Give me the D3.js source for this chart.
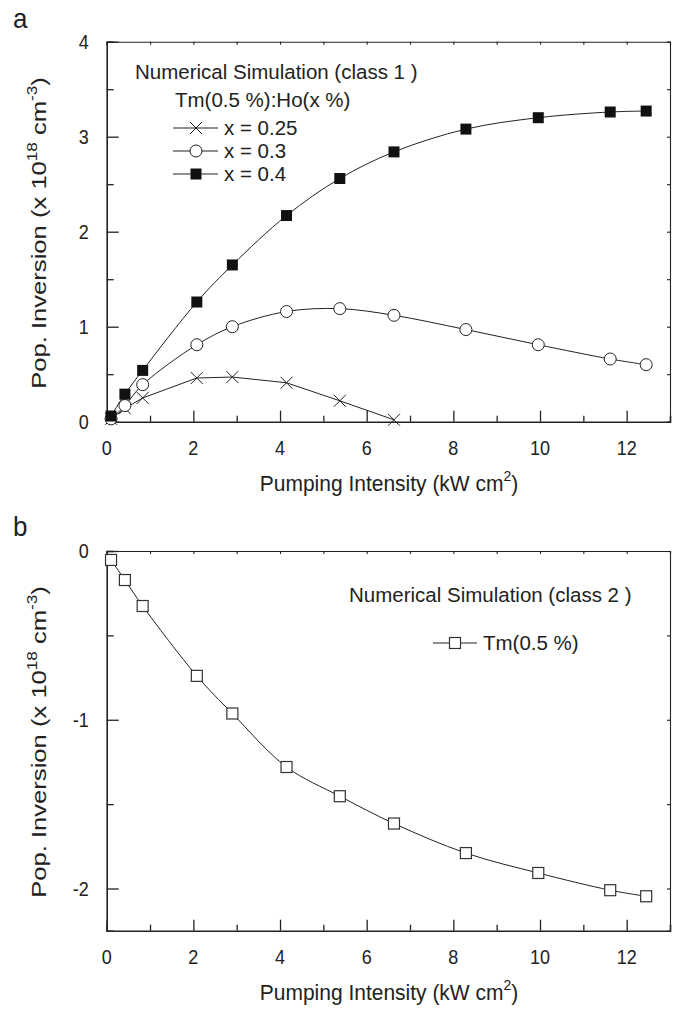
<!DOCTYPE html>
<html>
<head>
<meta charset="utf-8">
<script src="https://cdn.jsdelivr.net/npm/d3@7"></script>
<style>
  body { margin: 0; background: #fff; }
  text { font-family: "Liberation Sans", Arial, sans-serif; fill: #222; }
</style>
</head>
<body>
<script>
// data
const pump = [0.1, 0.42, 0.83, 2.08, 2.9, 4.15, 5.38, 6.63, 8.29, 9.96, 11.62, 12.45];
const ho025 = [0.03, 0.14, 0.25, 0.46, 0.47, 0.41, 0.22, 0.02];
const ho03 = [0.03, 0.17, 0.39, 0.81, 1.0, 1.16, 1.19, 1.12, 0.97, 0.81, 0.66, 0.6];
const ho04 = [0.06, 0.29, 0.54, 1.26, 1.65, 2.17, 2.56, 2.84, 3.08, 3.2, 3.26, 3.27];
const tmOnly = [-0.053, -0.172, -0.326, -0.74, -0.963, -1.28, -1.453, -1.615, -1.79, -1.908, -2.01, -2.046];
const xTicks = [0, 2, 4, 6, 8, 10, 12];
const yTicksA = [0, 1, 2, 3, 4];
const yTicksB = [0, -1, -2];
const legendA = ["x = 0.25", "x = 0.3", "x = 0.4"];

const W = 680, H = 1009;
const svg = d3.select("body").append("svg")
    .attr("width", W).attr("height", H);

const x = d3.scaleLinear().domain([0, 13]).range([106.7, 670]);
const smooth = d3.line()
    .curve(d3.curveCatmullRom.alpha(0.5))
    .x(d => x(d[0])).y(d => d[1]);
const straight = d3.line()
    .x(d => x(d[0])).y(d => d[1]);

// text placed at its baseline point, optionally stretched vertically (the scan is a bit tall)
function label(g, tx, ty, size, anchor, k, rot) {
    return g.append("text")
        .attr("transform", `translate(${tx},${ty}) scale(1,${k || 1})` + (rot ? " rotate(-90)" : ""))
        .attr("text-anchor", anchor || "start").attr("font-size", size);
}

function drawMarker(g, type, cx, cy) {
    if (type === "fsq") {
        g.append("rect").attr("x", cx - 5.5).attr("y", cy - 5.5).attr("width", 11).attr("height", 11)
            .attr("fill", "#111");
    } else if (type === "osq") {
        g.append("rect").attr("x", cx - 5.5).attr("y", cy - 5.5).attr("width", 11).attr("height", 11)
            .attr("fill", "#fff").attr("stroke", "#333").attr("stroke-width", 1.2);
    } else if (type === "circ") {
        g.append("circle").attr("cx", cx).attr("cy", cy).attr("r", 6)
            .attr("fill", "#fff").attr("stroke", "#222").attr("stroke-width", 1);
    } else if (type === "cross") {
        g.append("path")
            .attr("d", `M${cx - 6},${cy - 6}L${cx + 6},${cy + 6}M${cx - 6},${cy + 6}L${cx + 6},${cy - 6}`)
            .attr("stroke", "#222").attr("stroke-width", 1).attr("fill", "none");
    }
}

function panel(y, majorY, minorY, name, cy) {
    const g = svg.append("g");
    const x0 = x.range()[0], x1 = x.range()[1];
    const y0 = y.range()[0], y1 = y.range()[1];

    // bottom axis with inward ticks
    const bx = g.append("g").attr("transform", `translate(0,${y0})`)
        .call(d3.axisBottom(x).tickValues(d3.range(0, 13)).tickSize(-6).tickFormat(""));
    bx.selectAll(".tick line").filter(d => d % 2 === 0).attr("y2", -11);
    bx.selectAll("line, path").attr("stroke", "#222").attr("stroke-width", 1.3);
    bx.select(".domain").attr("stroke-width", 1.6);
    xTicks.forEach(d => label(g, x(d), y0 + 33, 18, "middle", 1.1).text(d));

    // top axis, small ticks
    const tx = g.append("g").attr("transform", `translate(0,${y1})`)
        .call(d3.axisTop(x).tickValues(d3.range(0, 14)).tickSize(-3).tickFormat(""));
    tx.selectAll("line, path").attr("stroke", "#222").attr("stroke-width", 1.1);

    // left axis
    const ly = g.append("g").attr("transform", `translate(${x0},0)`)
        .call(d3.axisLeft(y).tickValues(minorY).tickSize(-7).tickFormat(""));
    ly.selectAll(".tick line").filter(d => Number.isInteger(d)).attr("x2", 12);
    ly.selectAll("line, path").attr("stroke", "#222").attr("stroke-width", 1.3);
    ly.select(".domain").attr("stroke-width", 1.6);
    majorY.forEach(d => label(g, x0 - 18, y(d) + 7, 18, "end", 1.1).text(d));

    // right axis
    const ry = g.append("g").attr("transform", `translate(${x1},0)`)
        .call(d3.axisRight(y).tickValues(minorY).tickSize(-3).tickFormat(""));
    ry.selectAll("line, path").attr("stroke", "#222").attr("stroke-width", 1.1);

    // axis titles
    const xt = label(g, 389, y0 + 69, 21, "middle", 1.05);
    xt.append("tspan").text("Pumping Intensity (kW cm");
    xt.append("tspan").attr("dy", -9).attr("font-size", 14).text("2");
    xt.append("tspan").attr("dy", 9).text(")");

    const yt = label(g, 46, cy, 21, "middle", 1.22, true);
    yt.append("tspan").text("Pop. Inversion (x 10");
    yt.append("tspan").attr("dy", -9).attr("font-size", 14).text("18");
    yt.append("tspan").attr("dy", 9).text(" cm");
    yt.append("tspan").attr("dy", -9).attr("font-size", 14).text("-3");
    yt.append("tspan").attr("dy", 9).text(")");

    label(svg, 13, name === "a" ? 28 : 536, 26, "start", 1.05).text(name);
    return g;
}

function series(g, y, xs, ys, type, lineGen) {
    const pts = ys.map((v, i) => [xs[i], y(v)]);
    g.append("path").attr("d", lineGen(pts))
        .attr("fill", "none").attr("stroke", "#222").attr("stroke-width", 1);
    const mg = g.append("g");
    pts.forEach(p => drawMarker(mg, type, x(p[0]), p[1]));
}

// ---- panel a
const yA = d3.scaleLinear().domain([0, 4]).range([421.7, 41.7]);
const gA = panel(yA, yTicksA, d3.range(0, 4.01, 0.5), "a", 233);
series(gA, yA, pump, ho025, "cross", straight);
series(gA, yA, pump, ho03, "circ", smooth);
series(gA, yA, pump, ho04, "fsq", smooth);

label(gA, 135, 79, 20.5).text("Numerical Simulation (class 1 )");
label(gA, 175, 107, 20.5).text("Tm(0.5 %):Ho(x %)");
["cross", "circ", "fsq"].forEach((t, i) => {
    const ly = 128 + i * 23;
    gA.append("line").attr("x1", 173).attr("x2", 218).attr("y1", ly).attr("y2", ly)
        .attr("stroke", "#222").attr("stroke-width", 1);
    drawMarker(gA, t, 196, ly);
    label(gA, 224, ly + 7, 20.5).text(legendA[i]);
});

// ---- panel b
const yB = d3.scaleLinear().domain([-2.25, 0]).range([930.7, 551]);
const gB = panel(yB, yTicksB, d3.range(-2, 0.01, 0.5), "b", 742);
series(gB, yB, pump, tmOnly, "osq", smooth);

label(gB, 349, 602, 20.5).text("Numerical Simulation (class 2 )");
gB.append("line").attr("x1", 433).attr("x2", 477).attr("y1", 643).attr("y2", 643)
    .attr("stroke", "#222").attr("stroke-width", 1);
drawMarker(gB, "osq", 455, 643);
label(gB, 483, 650, 20.5).text("Tm(0.5 %)");
</script>
</body>
</html>
